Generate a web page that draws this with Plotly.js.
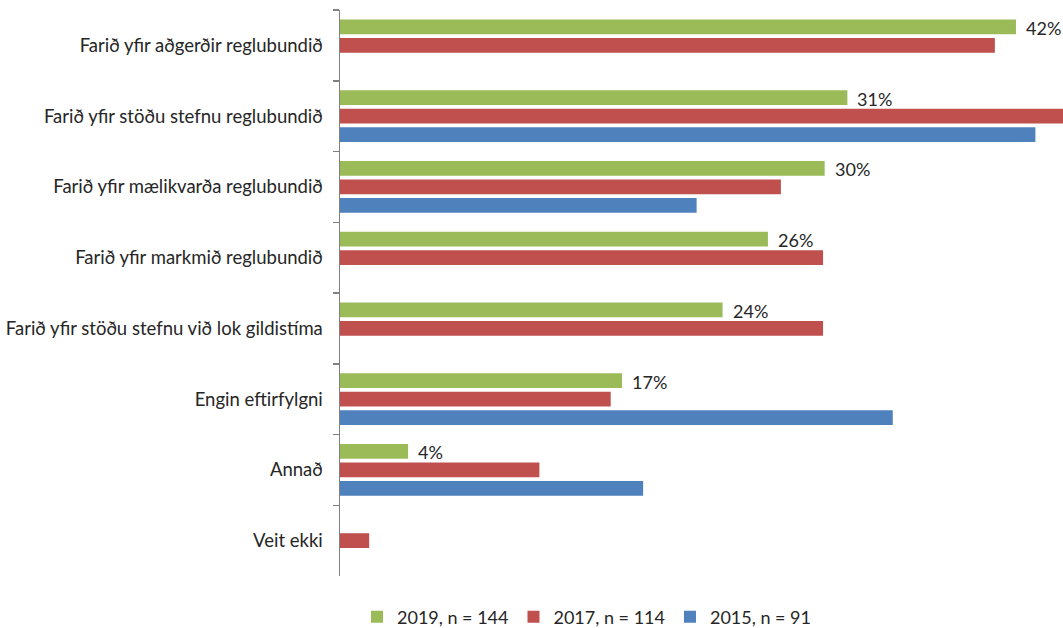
<!DOCTYPE html>
<html>
<head>
<meta charset="utf-8">
<script src="https://cdn.plot.ly/plotly-3.0.1.min.js"></script>
<style>html,body{margin:0;padding:0;background:#fff;}#chart{width:1063px;height:628px;}</style>
</head>
<body>
<div id="chart"></div>
<script>
var categories = [
  "Farið yfir aðgerðir reglubundið",
  "Farið yfir stöðu stefnu reglubundið",
  "Farið yfir mælikvarða reglubundið",
  "Farið yfir markmið reglubundið",
  "Farið yfir stöðu stefnu við lok gildistíma",
  "Engin eftirfylgni",
  "Annað",
  "Veit ekki"
];
var seriesNames = ["2019, n = 144", "2017, n = 114", "2015, n = 91"];
var v2019 = [41.7, 31.3, 29.9, 26.4, 23.6, 17.4, 4.2, null];
var v2017 = [40.4, 45.6, 27.2, 29.8, 29.8, 16.7, 12.3, 1.8];
var v2015 = [null, 42.9, 22.0, null, null, 34.1, 18.7, null];
var colors = ["#9BBB59", "#C0504D", "#4F81BD"];

var W = 1063, H = 628;
var margin = {l: 340, r: 0, t: 10, b: 52};
var plotH = H - margin.t - margin.b;
var bargap = 0.216;
var slotPx = (1 - bargap) * (plotH / categories.length) / 3;
var font = "Lato, 'Noto Sans', sans-serif";
var textColor = "#262626";
var fs = 18;

var allVals = [v2019, v2017, v2015];
var traces = allVals.map(function (vals, i) {
  return {
    type: "bar",
    orientation: "h",
    name: seriesNames[i],
    y: categories,
    x: vals,
    marker: {color: colors[i]},
    hoverinfo: "x+name"
  };
});

var annotations = [];
categories.forEach(function (c, i) {
  var v = v2019[i];
  if (v === null) return;
  annotations.push({
    x: v, y: c, xref: "x", yref: "y",
    text: Math.round(v) + "%",
    showarrow: false,
    xanchor: "left", yanchor: "middle",
    xshift: 8, yshift: slotPx - 1,
    font: {family: font, size: fs, color: textColor}
  });
});

var layout = {
  width: W, height: H,
  margin: margin,
  paper_bgcolor: "#fff", plot_bgcolor: "#fff",
  barmode: "group",
  bargap: bargap,
  bargroupgap: 0.2,
  font: {family: font, size: fs, color: textColor},
  showlegend: true,
  legend: {
    orientation: "h",
    xref: "container", yref: "container",
    x: 587 / W, y: 1 - 617 / H,
    xanchor: "center", yanchor: "middle",
    font: {family: font, size: fs, color: textColor},
    traceorder: "normal",
    itemwidth: 30
  },
  xaxis: {
    range: [0, (W - margin.l - margin.r) / 16.21],
    showticklabels: false, showgrid: false, zeroline: false,
    showline: false, ticks: "", fixedrange: true
  },
  yaxis: {
    type: "category",
    autorange: "reversed",
    showline: true, linecolor: "#808080", linewidth: 1.5,
    ticks: "outside", ticklen: 6, tickcolor: "#808080", tickwidth: 1.5,
    tickson: "boundaries",
    showgrid: false, zeroline: false,
    tickfont: {family: font, size: 18.5, color: textColor},
    ticklabelstandoff: 12
  },
  annotations: annotations
};

Plotly.newPlot("chart", traces, layout, {displayModeBar: false, staticPlot: true});
</script>
</body>
</html>
